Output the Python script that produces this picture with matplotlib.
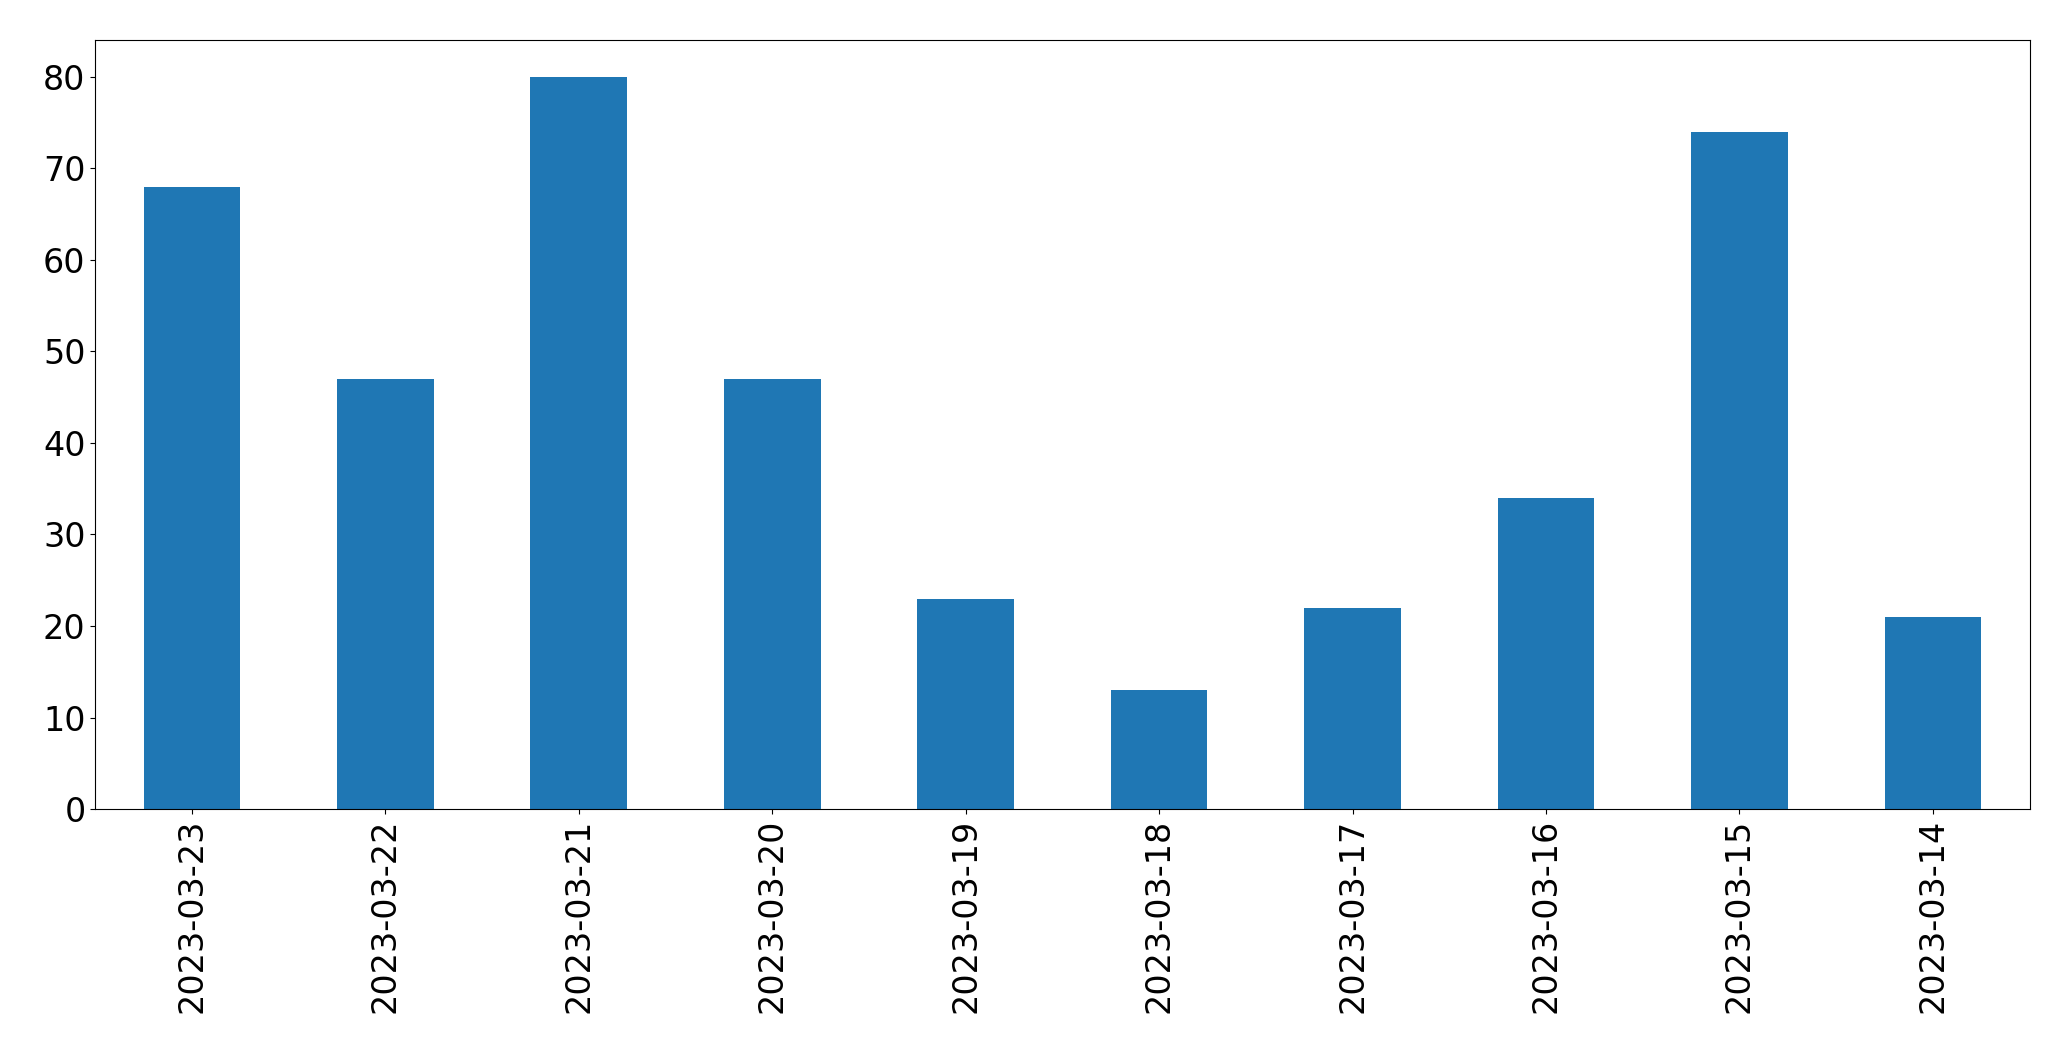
import matplotlib
matplotlib.use("Agg")
import matplotlib.pyplot as plt

# daily counts, newest first
dates = ["2023-03-23", "2023-03-22", "2023-03-21", "2023-03-20", "2023-03-19",
         "2023-03-18", "2023-03-17", "2023-03-16", "2023-03-15", "2023-03-14"]
counts = [68, 47, 80, 47, 23, 13, 22, 34, 74, 21]


def graphIt():
    fig, ax = plt.subplots(figsize=(20.71, 10.61), dpi=100)
    fig.subplots_adjust(left=0.046, right=0.980, top=0.962, bottom=0.2375)
    x = range(len(dates))
    ax.bar(x, counts, width=0.5, color="#1f77b4")
    ax.set_xticks(list(x))
    ax.set_xticklabels(dates, rotation=90, fontsize=24)
    ax.tick_params(axis="y", labelsize=24)
    ax.set_xlim(-0.5, len(dates) - 0.5)
    ax.set_ylim(0, 84)
    fig.savefig("out.png")


if __name__ == '__main__':
    graphIt()
